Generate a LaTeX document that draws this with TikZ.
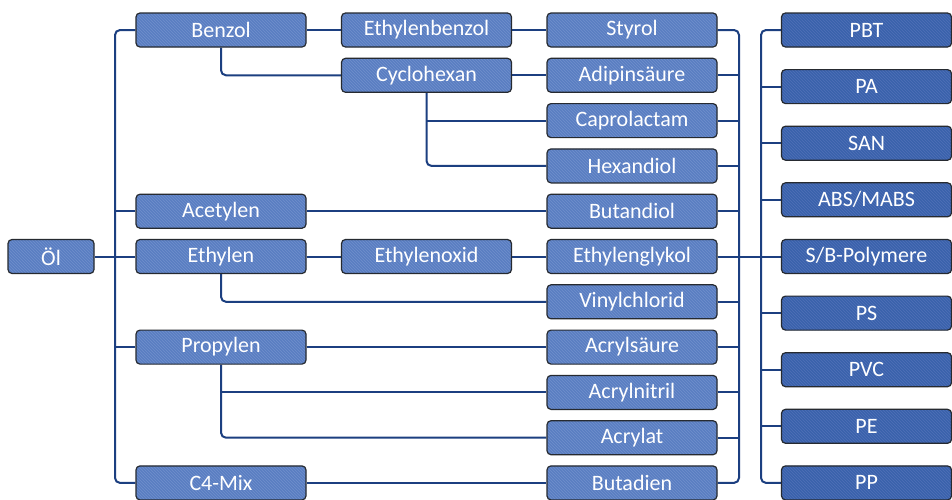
\documentclass[tikz,border=0pt]{standalone}
\usepackage{fontspec}
\setmainfont{Carlito}
\usetikzlibrary{patterns}
\definecolor{boxA}{HTML}{5A7EC2}
\definecolor{boxB}{HTML}{3A62AC}
\definecolor{hatchA}{HTML}{7090CC}
\definecolor{hatchB}{HTML}{5070B8}
\definecolor{wire}{HTML}{1C3F80}
\definecolor{rim}{HTML}{262A30}
\pgfdeclarelayer{background}
\pgfsetlayers{background,main}
\tikzset{
  chem/.style={draw=rim, line width=1.2pt, rounded corners=4pt,
    minimum height=34pt, minimum width=170pt, inner sep=0pt,
    text=white, font=\fontsize{22}{26}\selectfont,
    preaction={fill=boxA}, pattern=north west lines, pattern color=hatchA},
  prod/.style={chem, preaction={fill=boxB}, pattern color=hatchB},
  small/.style={minimum width=86pt},
  conn/.style={draw=wire, line width=2pt, rounded corners=5pt},
}
\begin{document}
\begin{tikzpicture}[x=1pt, y=-1pt]
\useasboundingbox (0,0) rectangle (952,499);
% column positions of the bus lines
\coordinate (bl) at (115,0);
\coordinate (br) at (739,0);
\coordinate (bp) at (761,0);
% raw material
\node[chem, small] (oel) at (51,256.5) {Öl};
% first stage
\node[chem] (benzol)   at (221,30)    {Benzol};
\node[chem] (acetylen) at (221,211.2) {Acetylen};
\node[chem] (ethylen)  at (221,256.5) {Ethylen};
\node[chem] (propylen) at (221,347.1) {Propylen};
\node[chem] (c4mix)    at (221,482.9) {C4-Mix};
% second stage
\node[chem] (ethylbenz) at (426.5,30)    {Ethylenbenzol};
\node[chem] (cyclohex)  at (426.5,75.3)  {Cyclohexan};
\node[chem] (ethoxid)   at (426.5,256.5) {Ethylenoxid};
% monomers
\node[chem] (styrol)   at (632,30)    {Styrol};
\node[chem] (adipin)   at (632,75.3)  {Adipinsäure};
\node[chem] (caprol)   at (632,120.6) {Caprolactam};
\node[chem] (hexan)    at (632,165.9) {Hexandiol};
\node[chem] (butandiol) at (632,211.2) {Butandiol};
\node[chem] (glykol)   at (632,256.5) {Ethylenglykol};
\node[chem] (vinyl)    at (632,301.8) {Vinylchlorid};
\node[chem] (acrylsr)  at (632,347.1) {Acrylsäure};
\node[chem] (acrylnit) at (632,392.4) {Acrylnitril};
\node[chem] (acrylat)  at (632,437.7) {Acrylat};
\node[chem] (butadien) at (632,482.9) {Butadien};
% polymers
\node[prod] (pbt)  at (866.5,30)    {PBT};
\node[prod] (pa)   at (866.5,86.6)  {PA};
\node[prod] (san)  at (866.5,143.2) {SAN};
\node[prod] (abs)  at (866.5,199.8) {ABS/MABS};
\node[prod] (sb)   at (866.5,256.5) {S/B-Polymere};
\node[prod] (ps)   at (866.5,313.1) {PS};
\node[prod] (pvc)  at (866.5,369.7) {PVC};
\node[prod] (pe)   at (866.5,426.3) {PE};
\node[prod] (pp)   at (866.5,482.9) {PP};

\begin{pgfonlayer}{background}
\fill[white] (0,0) rectangle (952,499);
% oil to the left bus
\draw[conn] (oel.east) -- (ethylen.west);
\draw[conn] (benzol.west) -- (benzol.west -| bl) -- (c4mix.west -| bl) -- (c4mix.west);
\foreach \n in {acetylen, propylen}
  \draw[conn] (\n.west -| bl) -- (\n.west);
% straight chains
\draw[conn] (benzol.east) -- (ethylbenz.west);
\draw[conn] (ethylbenz.east) -- (styrol.west);
\draw[conn] (cyclohex.east) -- (adipin.west);
\draw[conn] (acetylen.east) -- (butandiol.west);
\draw[conn] (ethylen.east) -- (ethoxid.west);
\draw[conn] (ethoxid.east) -- (glykol.west);
\draw[conn] (propylen.east) -- (acrylsr.west);
\draw[conn] (c4mix.east) -- (butadien.west);
% branches from below
\draw[conn] (benzol.south) |- (cyclohex.west);
\draw[conn] (cyclohex.south) |- (hexan.west);
\draw[conn] (cyclohex.south |- caprol.west) -- (caprol.west);
\draw[conn] (ethylen.south) |- (vinyl.west);
\draw[conn] (propylen.south) |- (acrylat.west);
\draw[conn] (propylen.south |- acrylnit.west) -- (acrylnit.west);
% monomers to the right bus
\draw[conn] (styrol.east) -- (styrol.east -| br) -- (butadien.east -| br) -- (butadien.east);
\foreach \n in {adipin, caprol, hexan, butandiol, vinyl, acrylsr, acrylnit, acrylat}
  \draw[conn] (\n.east) -- (\n.east -| br);
\draw[conn] (glykol.east) -- (sb.west);
% polymer bus
\draw[conn] (pbt.west) -- (pbt.west -| bp) -- (pp.west -| bp) -- (pp.west);
\foreach \n in {pa, san, abs, ps, pvc, pe}
  \draw[conn] (\n.west -| bp) -- (\n.west);
\end{pgfonlayer}
\end{tikzpicture}
\end{document}
